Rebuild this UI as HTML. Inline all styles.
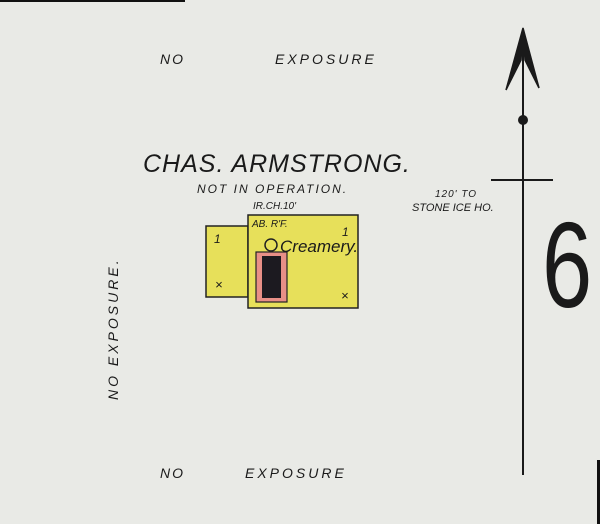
<!DOCTYPE html>
<html><head><meta charset="utf-8"><style>
html,body{margin:0;padding:0;background:#e9eae6;}
svg{display:block}
text{font-family:"Liberation Sans",sans-serif;font-style:italic;fill:#1a1a1a}
</style></head><body>
<svg width="600" height="524" viewBox="0 0 600 524" xmlns="http://www.w3.org/2000/svg">
<rect width="600" height="524" fill="#e9eae6"/>
<rect x="0" y="0" width="185" height="2" fill="#111"/>
<rect x="597" y="460" width="3" height="64" fill="#111"/>
<text x="160" y="64" font-size="14" letter-spacing="2">NO</text>
<text x="275" y="64" font-size="14" letter-spacing="3">EXPOSURE</text>
<text x="160" y="478" font-size="14" letter-spacing="2">NO</text>
<text x="245" y="478" font-size="14" letter-spacing="3">EXPOSURE</text>
<text transform="translate(118,400) rotate(-90)" font-size="14" letter-spacing="3">NO    EXPOSURE.</text>
<text x="143" y="172" font-size="25" letter-spacing="1">CHAS. ARMSTRONG.</text>
<text x="197" y="193" font-size="12" letter-spacing="2">NOT IN OPERATION.</text>
<text x="253" y="209" font-size="10">IR.CH.10'</text>
<text x="435" y="197" font-size="10" letter-spacing="1">120' TO</text>
<text x="412" y="211" font-size="11">STONE ICE HO.</text>
<rect x="206" y="226" width="42" height="71" fill="#e7e05a" stroke="#222" stroke-width="1.5"/>
<rect x="248" y="215" width="110" height="93" fill="#e7e05a" stroke="#222" stroke-width="1.5"/>
<text x="252" y="227" font-size="10">AB. R'F.</text>
<rect x="256" y="252" width="31" height="50" fill="#e88f87" stroke="#222" stroke-width="1.2"/>
<rect x="262" y="256" width="19" height="42" fill="#1c1a20"/>
<circle cx="271" cy="245" r="6" fill="none" stroke="#222" stroke-width="1.5"/>
<text x="280" y="252" font-size="17">Creamery.</text>
<text x="214" y="243" font-size="12">1</text>
<text x="342" y="236" font-size="12">1</text>
<text x="215" y="289" font-size="13">×</text>
<text x="341" y="300" font-size="13">×</text>
<line x1="523" y1="30" x2="523" y2="475" stroke="#1a1a1a" stroke-width="2"/>
<path d="M523,28 L506,90 L521,60 Z M523,28 L539,88 L525,60 Z" fill="#1a1a1a" stroke="#1a1a1a" stroke-width="1.5"/>
<circle cx="523" cy="120" r="5" fill="#1a1a1a"/>
<line x1="491" y1="180" x2="553" y2="180" stroke="#1a1a1a" stroke-width="2"/>
<text transform="translate(542,307) scale(0.74,1)" font-size="122" style="font-style:normal" fill="#222">6</text>
</svg>
</body></html>
